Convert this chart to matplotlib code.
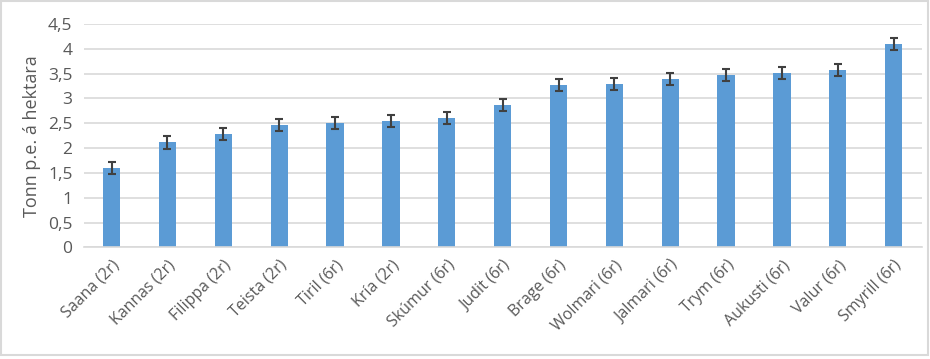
import matplotlib
matplotlib.use("Agg")
import matplotlib.pyplot as plt
import matplotlib.ticker as ticker
from matplotlib.patches import Rectangle

cultivars = ['Saana (2r)', 'Kannas (2r)', 'Filippa (2r)', 'Teista (2r)', 'Tiril (6r)',
             'Kría (2r)', 'Skúmur (6r)', 'Judit (6r)', 'Brage (6r)', 'Wolmari (6r)',
             'Jalmari (6r)', 'Trym (6r)', 'Aukusti (6r)', 'Valur (6r)', 'Smyrill (6r)']
yields = [1.59, 2.12, 2.28, 2.46, 2.50, 2.55, 2.60, 2.86, 3.27, 3.29, 3.39, 3.47, 3.51, 3.57, 4.09]
errors = [0.12, 0.13, 0.12, 0.12, 0.12, 0.12, 0.12, 0.12, 0.12, 0.12, 0.12, 0.12, 0.12, 0.12, 0.12]

plt.rcParams['font.family'] = ['Open Sans', 'DejaVu Sans']

fig = plt.figure(figsize=(9.3, 3.59), dpi=100)
ax = fig.add_axes([0.090, 0.311, 0.901, 0.622])

x = range(len(cultivars))
ax.bar(x, yields, width=0.31, color='#5B9BD5', zorder=2,
       yerr=errors, ecolor='#404040',
       error_kw={'capsize': 2.6, 'elinewidth': 1.5, 'capthick': 1.5})

ax.set_xlim(-0.5, len(cultivars) - 0.5)
ax.set_ylim(0, 4.5)
ax.yaxis.set_major_locator(ticker.MultipleLocator(0.5))
ax.yaxis.set_major_formatter(
    ticker.FuncFormatter(lambda v, p: ('%g' % v).replace('.', ',')))
ax.grid(axis='y', color='#D9D9D9', lw=1.2, zorder=0)
ax.set_axisbelow(True)

for s in ['top', 'right', 'left']:
    ax.spines[s].set_visible(False)
ax.spines['bottom'].set_color('#D9D9D9')
ax.spines['bottom'].set_linewidth(1.2)

ax.set_xticks(list(x))
ax.set_xticklabels(cultivars, rotation=45, ha='right', rotation_mode='anchor',
                   fontsize=11.5, color='#595959')
ax.tick_params(axis='x', length=0, pad=7)
ax.tick_params(axis='y', length=0, labelsize=12.5, labelcolor='#595959', pad=8)
ax.set_ylabel('Tonn p.e. á hektara', fontsize=13, color='#595959', labelpad=5)

fig.patches.append(Rectangle((0.001, 0.012), 0.997, 0.984, transform=fig.transFigure,
                             fill=False, edgecolor='#D9D9D9', lw=1.5))

fig.savefig('out.png', dpi=100)
